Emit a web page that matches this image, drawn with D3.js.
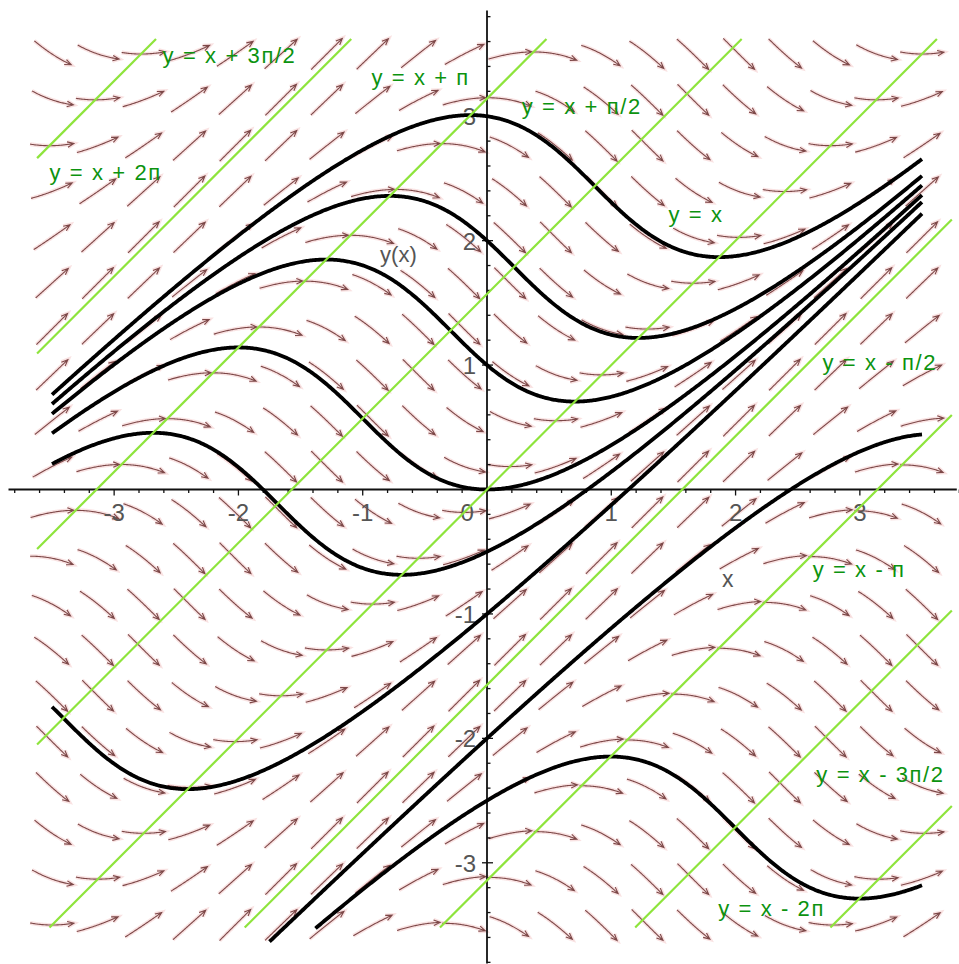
<!DOCTYPE html>
<meta charset="utf-8">
<head>
<style>

body {
  margin: 0;
  background: #fff;
}

svg {
  display: block;
}

.tick-label {
  font-family: "Liberation Sans", Arial, sans-serif;
  font-size: 24px;
  fill: #555;
}

.axis-title {
  font-family: "Liberation Sans", Arial, sans-serif;
  font-size: 22px;
  fill: #555;
}

.eq-label {
  font-family: "Liberation Sans", Arial, sans-serif;
  font-size: 22px;
  letter-spacing: 1.6px;
  fill: #0c930f;
}

</style>
<script src="https://cdn.jsdelivr.net/npm/d3@7"></script>
</head>

<body>
<svg width="959" height="964"></svg>
<script>

// dy/dx = sin(x - y), the equation the picture shows
function slope(px, py) { return Math.sin(px - py); }

// solution curves: value at x = 0 and the x where each curve starts
var curveY0 = [3, 2, 1, 0, -0.5, -1, -2, -2.5];
var curveX0 = [-3.5, -3.5, -3.5, -3.5, -3.5, -3.5, -1.75, -1.38];
var curveX1 = [3.5, 3.5, 3.5, 3.5, 3.5, 3.5, 3.5, 3.5];

// green lines y = x + k*pi/2
var lineK = [4, 3, 2, 1, 0, -1, -2, -3, -4];
var lineText = ["y = x + 2п", "y = x + 3п/2", "y = x + п", "y = x + п/2", "y = x",
                "y = x - п/2", "y = x - п", "y = x - 3п/2", "y = x - 2п"];
var lineTextX = [-3.52, -2.61, -0.93, 0.28, 1.46, 2.70, 2.62, 2.65, 1.86];
var lineTextY = [2.49, 3.43, 3.25, 3.02, 2.15, 0.96, -0.70, -2.35, -3.43];

// direction field grid
var fieldMin = -3.5, fieldMax = 3.5, fieldN = 20;

// axes
var xTickLabels = ["-3", "-2", "-1", "0", "1", "2", "3"];
var xTickValues = [-3, -2, -1, -0.16, 1, 2, 3];
var yTickLabels = ["3", "2", "1", "-1", "-2", "-3"];
var yTickValues = [3, 2, 1, -1, -2, -3];

var svg = d3.select("svg"),
    width = +svg.attr("width"),
    height = +svg.attr("height");

var x = d3.scaleLinear().domain([-3.5, 3.5]).range([52, 922]);
var y = d3.scaleLinear().domain([-3.5, 3.5]).range([925, 54]);

var kx = x(1) - x(0),
    ky = y(0) - y(1);

// ---- direction field arrows (short flow lines) ----
function trace(cx, cy, dir, len) {
  var pts = [];
  var px = x(cx), py = y(cy), s = 0, step = 1;
  while (s < len) {
    var m1 = slope(x.invert(px), y.invert(py));
    var vx = kx, vy = -m1 * ky, n = Math.sqrt(vx * vx + vy * vy);
    var mx = px + dir * step / 2 * vx / n, my = py + dir * step / 2 * vy / n;
    var m2 = slope(x.invert(mx), y.invert(my));
    vx = kx; vy = -m2 * ky; n = Math.sqrt(vx * vx + vy * vy);
    px += dir * step * vx / n;
    py += dir * step * vy / n;
    s += step;
    pts.push([px, py]);
  }
  return pts;
}

var grid = [];
d3.range(fieldN).forEach(function(i) {
  d3.range(fieldN).forEach(function(j) {
    grid.push([fieldMin + i * (fieldMax - fieldMin) / (fieldN - 1),
               fieldMin + j * (fieldMax - fieldMin) / (fieldN - 1)]);
  });
});

var arrows = grid.map(function(g) {
  var back = trace(g[0], g[1], -1, 22).reverse();
  var fwd = trace(g[0], g[1], 1, 22);
  var pts = back.concat([[x(g[0]), y(g[1])]], fwd);
  var a = pts[pts.length - 3], b = pts[pts.length - 1];
  var ang = Math.atan2(b[1] - a[1], b[0] - a[0]);
  var hl = 7, ha = 0.4;
  var head = [[b[0] - hl * Math.cos(ang - ha), b[1] - hl * Math.sin(ang - ha)], b,
              [b[0] - hl * Math.cos(ang + ha), b[1] - hl * Math.sin(ang + ha)]];
  return { body: pts, head: head };
});

var line = d3.line();

var field = svg.append("g").attr("class", "field");

field.selectAll(".halo")
  .data(arrows)
  .enter().append("path")
    .attr("class", "halo")
    .attr("d", function(d) { return line(d.body) + line(d.head); })
    .attr("fill", "none")
    .attr("stroke", "#f4c6c6")
    .attr("stroke-width", 4)
    .attr("stroke-opacity", 0.5);

field.selectAll(".arrow")
  .data(arrows)
  .enter().append("path")
    .attr("class", "arrow")
    .attr("d", function(d) { return line(d.body) + line(d.head); })
    .attr("fill", "none")
    .attr("stroke", "#7d4848")
    .attr("stroke-width", 1.1);

// ---- axes ----
var axes = svg.append("g").attr("class", "axes");

axes.append("line")
  .attr("x1", x(-3.85)).attr("x2", x(3.78))
  .attr("y1", y(0)).attr("y2", y(0))
  .attr("stroke", "#111").attr("stroke-width", 1.8);

axes.append("line")
  .attr("x1", x(0)).attr("x2", x(0))
  .attr("y1", y(3.85)).attr("y2", y(-3.81))
  .attr("stroke", "#111").attr("stroke-width", 1.8);

var minor = d3.range(-19, 20).map(function(i) { return i / 5; }).filter(function(v) { return v !== 0; });
function isMajor(d) { return Math.abs(d - Math.round(d)) < 1e-6; }

axes.selectAll(".xtick")
  .data(minor)
  .enter().append("line")
    .attr("class", "xtick")
    .attr("x1", function(d) { return x(d); }).attr("x2", function(d) { return x(d); })
    .attr("y1", y(0))
    .attr("y2", function(d) { return y(0) + (isMajor(d) ? 6 : 3.5); })
    .attr("stroke", "#111").attr("stroke-width", 1.3);

axes.selectAll(".ytick")
  .data(minor)
  .enter().append("line")
    .attr("class", "ytick")
    .attr("y1", function(d) { return y(d); }).attr("y2", function(d) { return y(d); })
    .attr("x1", function(d) { return x(0) - (isMajor(d) ? 5 : 0); })
    .attr("x2", function(d) { return x(0) + (isMajor(d) ? 6 : 3.5); })
    .attr("stroke", "#111").attr("stroke-width", 1.3);

axes.selectAll(".xlabel")
  .data(xTickLabels)
  .enter().append("text")
    .attr("class", "tick-label")
    .attr("x", function(d, i) { return x(xTickValues[i]); })
    .attr("y", y(0) + 31)
    .attr("text-anchor", "middle")
    .text(function(d) { return d; });

axes.selectAll(".ylabel")
  .data(yTickLabels)
  .enter().append("text")
    .attr("class", "tick-label")
    .attr("x", x(0) - 11)
    .attr("y", function(d, i) { return y(yTickValues[i]) + 9; })
    .attr("text-anchor", "end")
    .text(function(d) { return d; });

axes.append("text")
  .attr("class", "axis-title")
  .attr("x", x(-0.86)).attr("y", y(1.83))
  .text("y(x)");

axes.append("text")
  .attr("class", "axis-title")
  .attr("x", x(1.89)).attr("y", y(-0.78))
  .style("font-size", "23px")
  .text("x");

// ---- solution curves ----
function rk4(x0, y0, x1) {
  var h = 0.01 * (x1 > x0 ? 1 : -1), n = Math.round(Math.abs(x1 - x0) / 0.01);
  var pts = [[x0, y0]], cx = x0, cy = y0;
  for (var i = 0; i < n; i++) {
    var k1 = slope(cx, cy),
        k2 = slope(cx + h / 2, cy + h / 2 * k1),
        k3 = slope(cx + h / 2, cy + h / 2 * k2),
        k4 = slope(cx + h, cy + h * k3);
    cy += h / 6 * (k1 + 2 * k2 + 2 * k3 + k4);
    cx += h;
    pts.push([cx, cy]);
  }
  return pts;
}

var curves = curveY0.map(function(v, i) {
  var left = rk4(0, v, curveX0[i]).reverse();
  var right = rk4(0, v, curveX1[i]).slice(1);
  return left.concat(right);
});

svg.append("g")
    .attr("class", "curves")
  .selectAll("path")
  .data(curves)
  .enter().append("path")
    .attr("d", d3.line().x(function(d) { return x(d[0]); }).y(function(d) { return y(d[1]); }))
    .attr("fill", "none")
    .attr("stroke", "#000")
    .attr("stroke-width", 3.8)
    .attr("stroke-linejoin", "round");

// ---- green lines y = x + k*pi/2, clipped to the frame ----
var box = { x0: -3.62, x1: 3.74, y0: -3.52, y1: 3.62 };

var segs = lineK.map(function(k) {
  var c = k * Math.PI / 2;
  var xa = Math.max(box.x0, box.y0 - c), xb = Math.min(box.x1, box.y1 - c);
  return [[xa, xa + c], [xb, xb + c]];
});

svg.append("g")
    .attr("class", "isolines")
  .selectAll("line")
  .data(segs)
  .enter().append("line")
    .attr("x1", function(d) { return x(d[0][0]); })
    .attr("y1", function(d) { return y(d[0][1]); })
    .attr("x2", function(d) { return x(d[1][0]); })
    .attr("y2", function(d) { return y(d[1][1]); })
    .attr("stroke", "#8ee43c")
    .attr("stroke-width", 2.2);

svg.append("g")
    .attr("class", "eq-labels")
  .selectAll("text")
  .data(lineText)
  .enter().append("text")
    .attr("class", "eq-label")
    .attr("x", function(d, i) { return x(lineTextX[i]); })
    .attr("y", function(d, i) { return y(lineTextY[i]); })
    .text(function(d) { return d; });

</script>
</body>
